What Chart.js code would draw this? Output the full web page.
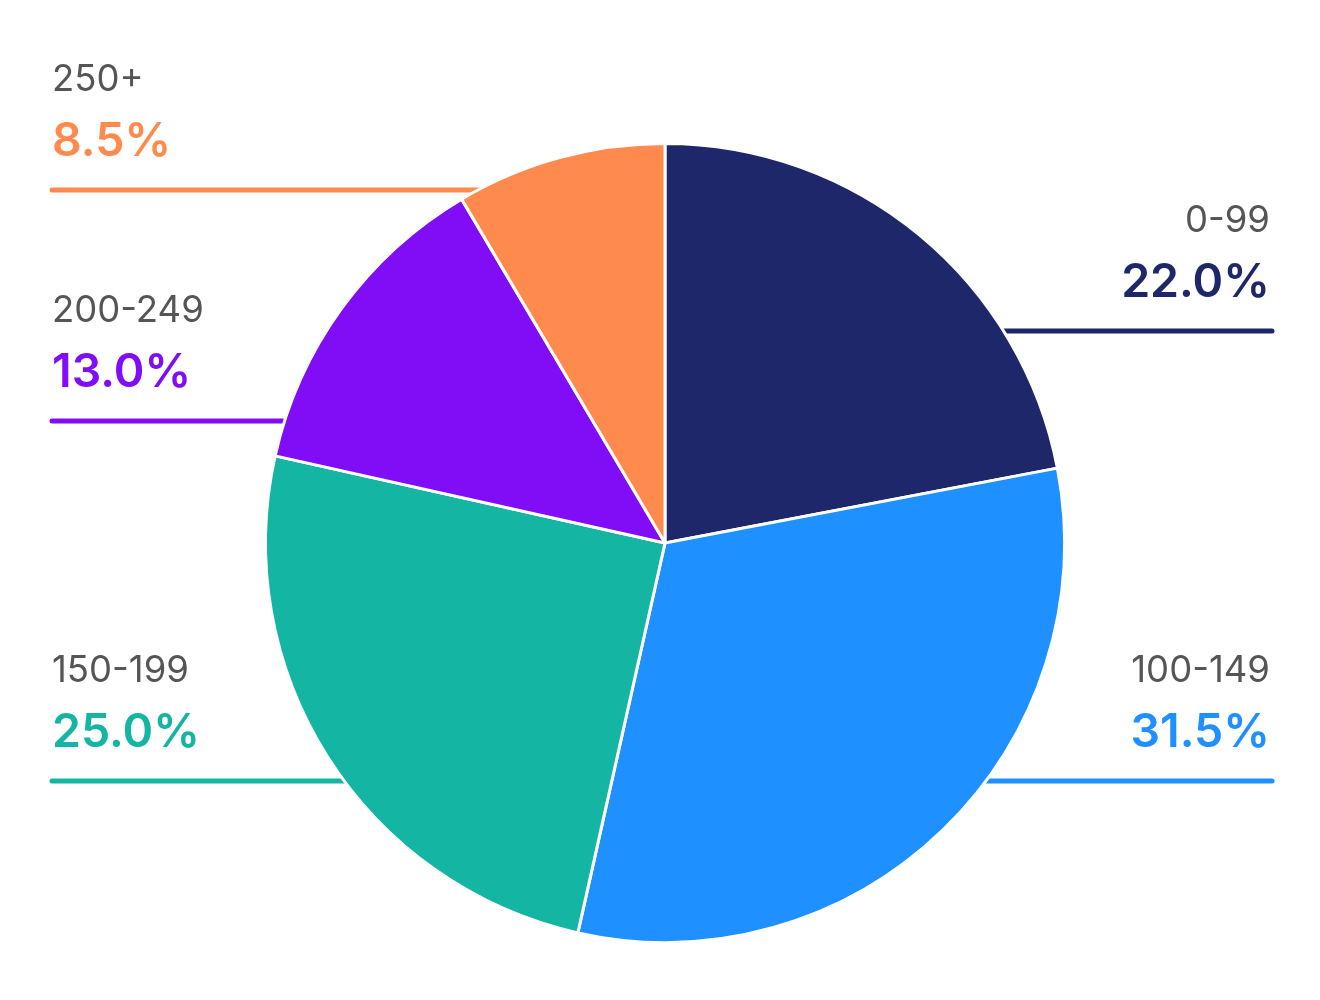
<!DOCTYPE html>
<html>
<head>
<meta charset="utf-8">
<script src="https://cdn.jsdelivr.net/npm/chart.js@4.4.0/dist/chart.umd.min.js"></script>
<style>
  html, body { margin: 0; padding: 0; background: #ffffff; }
  #wrap { width: 1320px; height: 1000px; position: relative; }
</style>
</head>
<body>
<div id="wrap"><canvas id="pieChart" width="1320" height="1000"></canvas></div>
<script>
// Data
const categories = ["0-99", "100-149", "150-199", "200-249", "250+"];
const shares = [22.0, 31.5, 25.0, 13.0, 8.5];
const sliceColors = ["#1F276B", "#1E90FF", "#15B5A3", "#800DF5", "#FF8A4D"];

// Label layout: which side and at what height the leader line sits
const labelSide = ["right", "right", "left", "left", "left"];
const labelLineY = [331, 781, 781, 421, 190];

const calloutPlugin = {
    id: "callouts",
    beforeDatasetsDraw(chart) {
        const ctx = chart.ctx;
        const arc = chart.getDatasetMeta(0).data[0];
        const cx = arc.x;
        ctx.save();
        ctx.lineWidth = 5;
        ctx.lineCap = "round";
        categories.forEach((c, i) => {
            const y = labelLineY[i];
            const endX = labelSide[i] === "left" ? 52 : 1272;
            ctx.strokeStyle = sliceColors[i];
            ctx.beginPath();
            ctx.moveTo(cx, y);
            ctx.lineTo(endX, y);
            ctx.stroke();
        });
        ctx.restore();
    },
    afterDatasetsDraw(chart) {
        const ctx = chart.ctx;
        ctx.save();
        ctx.textBaseline = "alphabetic";
        categories.forEach((c, i) => {
            const y = labelLineY[i];
            const left = labelSide[i] === "left";
            ctx.textAlign = left ? "left" : "right";
            const x = left ? 52 : 1270;
            ctx.fillStyle = "#555555";
            ctx.font = "400 36.5px Inter";
            ctx.fillText(c, x, y - 99);
            ctx.fillStyle = sliceColors[i];
            ctx.font = "600 46.5px Inter";
            ctx.fillText(shares[i].toFixed(1) + "%", x, y - 34);
        });
        ctx.restore();
    }
};

new Chart(document.getElementById("pieChart"), {
    type: "pie",
    data: {
        labels: categories,
        datasets: [{
            data: shares,
            backgroundColor: sliceColors,
            borderColor: "#ffffff",
            borderWidth: 3,
            hoverOffset: 0
        }]
    },
    options: {
        responsive: false,
        animation: false,
        layout: { padding: { top: 142, bottom: 56, left: 10, right: 0 } },
        plugins: {
            legend: { display: false },
            tooltip: { enabled: false }
        }
    },
    plugins: [calloutPlugin]
});
</script>
</body>
</html>
